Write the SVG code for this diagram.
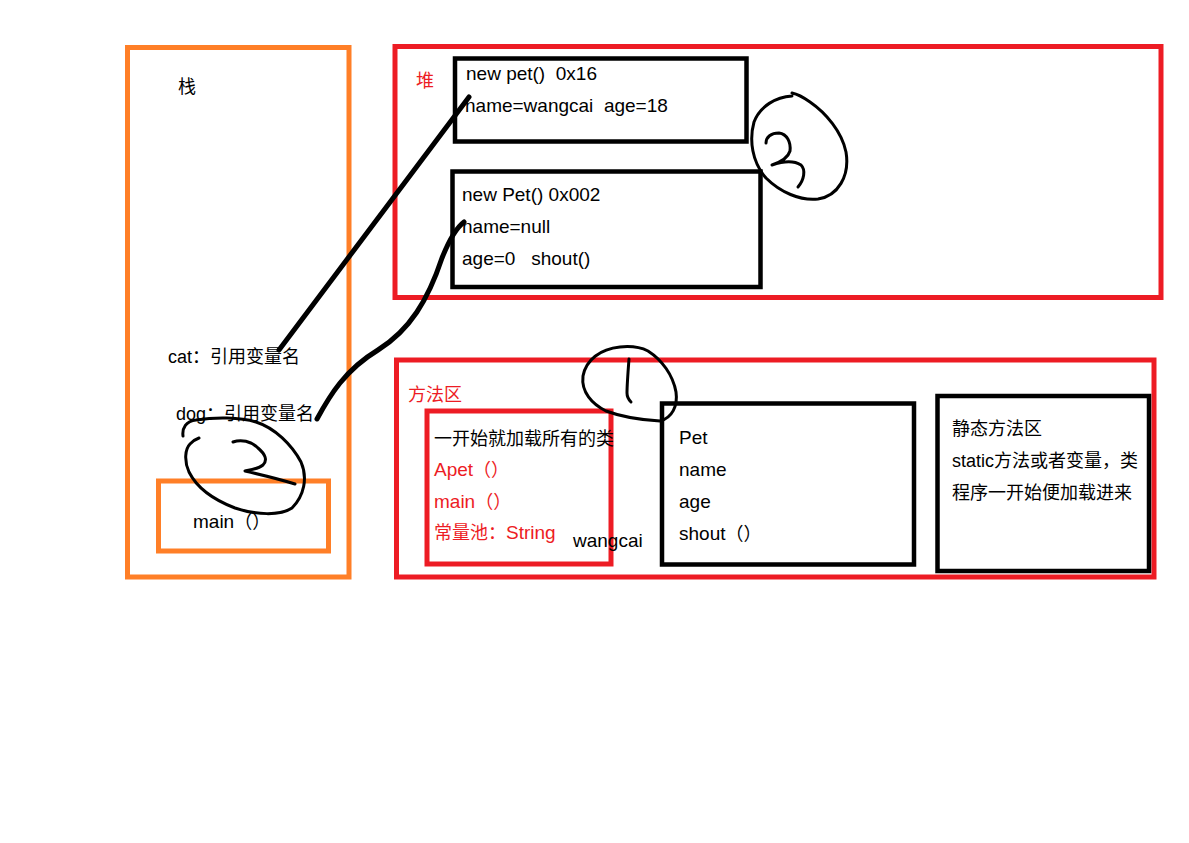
<svg xmlns="http://www.w3.org/2000/svg" width="1189" height="843" viewBox="0 0 1189 843">
<style>
  .bg{fill:#ffffff}
  .orange{fill:none;stroke:#FF7F27;stroke-width:5}
  .red{fill:none;stroke:#ED1C24;stroke-width:5}
  .blk{fill:none;stroke:#000000;stroke-width:4.5}
  .t{font-family:"Liberation Sans","Noto Sans CJK SC",sans-serif;font-size:18px;fill:#000000;white-space:pre}
  .l{font-size:19px}
  .rt{fill:#ED1C24}
  .wire{fill:none;stroke:#000000;stroke-width:5;stroke-linecap:round;stroke-linejoin:round}
  .pen{fill:none;stroke:#000000;stroke-width:3;stroke-linecap:round;stroke-linejoin:round}
</style>
<rect class="bg" x="0" y="0" width="1189" height="843"/>

<g id="stack">
  <rect class="orange" x="127.5" y="47.5" width="221.5" height="529.5"/>
  <text class="t" x="178" y="93">栈</text>
  <text class="t" x="168" y="363">cat：引用变量名</text>
  <text class="t" x="176" y="420">dog：引用变量名</text>
</g>
<g id="main-frame">
  <rect class="orange" x="158.5" y="481" width="170" height="70"/>
  <text class="t" x="193" y="528"><tspan class="l">main</tspan>（）</text>
</g>

<g id="heap">
  <rect class="red" x="395" y="46.5" width="766" height="251"/>
  <text class="t rt" x="416" y="87">堆</text>
</g>
<g id="pet-object-1">
  <rect class="blk" x="455" y="58.5" width="291.5" height="83"/>
  <text class="t l" x="466" y="80" xml:space="preserve">new pet()  0x16</text>
  <text class="t l" x="465" y="112" xml:space="preserve">name=wangcai  age=18</text>
</g>
<g id="pet-object-2">
  <rect class="blk" x="452.5" y="171.5" width="308" height="115.5"/>
  <text class="t l" x="462" y="201">new Pet() 0x002</text>
  <text class="t l" x="462" y="233">name=null</text>
  <text class="t l" x="462" y="265" xml:space="preserve">age=0   shout()</text>
</g>

<g id="method-area">
  <rect class="red" x="396.5" y="360" width="757.5" height="217"/>
  <text class="t rt" x="408" y="401">方法区</text>
</g>
<g id="class-loading">
  <rect class="red" x="427" y="411" width="184" height="153"/>
  <text class="t" x="434" y="445">一开始就加载所有的类</text>
  <text class="t rt" x="434" y="476"><tspan class="l">Apet</tspan>（）</text>
  <text class="t rt" x="434" y="508"><tspan class="l">main</tspan>（）</text>
  <text class="t rt" x="434" y="539">常量池：<tspan class="l">String</tspan></text>
  <text class="t l" x="573" y="547">wangcai</text>
</g>
<g id="pet-class">
  <rect class="blk" x="662" y="403.5" width="252" height="161"/>
  <text class="t l" x="679" y="444">Pet</text>
  <text class="t l" x="679" y="476">name</text>
  <text class="t l" x="679" y="508">age</text>
  <text class="t" x="679" y="540"><tspan class="l">shout</tspan>（）</text>
</g>
<g id="static-area">
  <rect class="blk" x="937.5" y="396" width="211.5" height="175"/>
  <text class="t" x="952" y="435">静态方法区</text>
  <text class="t" x="952" y="467">static方法或者变量，类</text>
  <text class="t" x="952" y="499">程序一开始便加载进来</text>
</g>

<g id="connectors">
  <path class="wire" d="M279,350 L469,97"/>
  <path class="wire" d="M317,419 C330,395 345,370 378,350 C410,330 428,300 442,258 C450,238 456,228 464,222"/>
</g>

<g id="annotations">
  <path class="pen" d="M792,96 C776,97 760,106 754,122 C749,140 752,162 766,178 C780,192 800,201 818,199 C838,196 850,176 846,152 C842,132 826,113 810,102 C803,97 797,94 792,93"/>
  <path class="pen" d="M766,143 C766,137 771,133 779,133 C787,134 791,142 790,151 C788,158 781,162 772,165 C781,162 793,160 801,165 C806,170 804,180 798,187"/>
  <path class="pen" d="M620,347 C600,349 586,360 583,376 C581,392 592,404 606,411 C622,417 642,420 660,421 C672,418 678,406 676,392 C673,375 662,360 648,351 C640,347 630,346 620,347 Z"/>
  <path class="pen" d="M629,359 C628,372 627,385 627,393 C627,397 629,400 631,402"/>
  <path class="pen" d="M183,436 C182,428 186,421 196,420 C215,417 240,417 256,422 C275,428 292,445 301,462 C308,478 304,496 292,508 C280,516 256,515 235,508 C214,500 197,488 189,472 C184,461 185,449 190,444 C193,441 196,439 199,438"/>
  <path class="pen" d="M233,442 C241,439 251,441 258,448 C265,454 268,460 263,465 C258,469 250,470 245,471 C258,474 279,479 295,484"/>
</g>
</svg>
